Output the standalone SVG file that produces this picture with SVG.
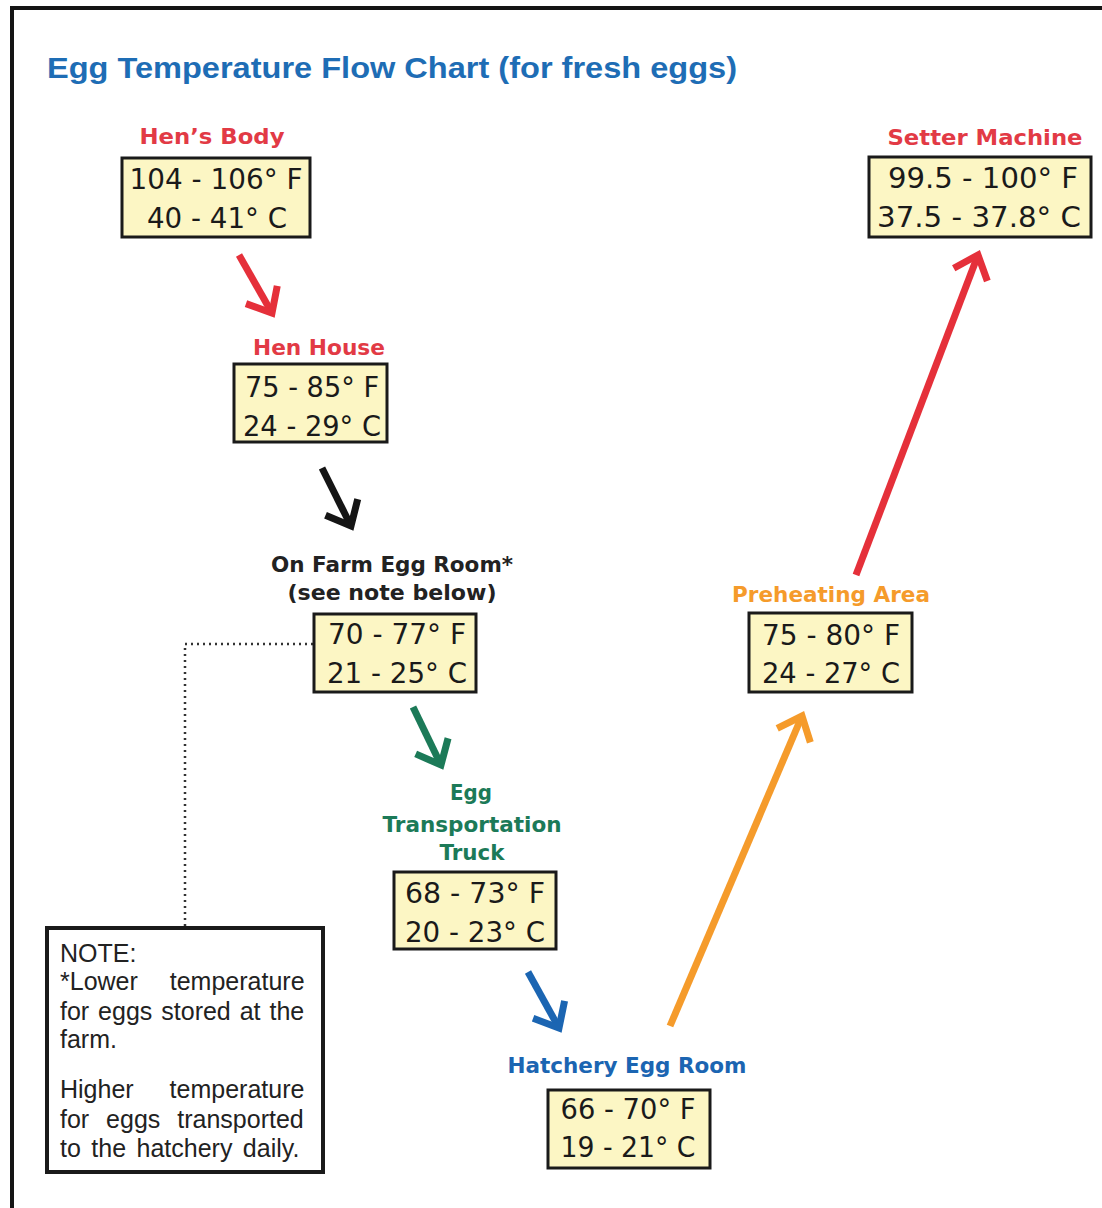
<svg xmlns="http://www.w3.org/2000/svg" width="1102" height="1208" viewBox="0 0 1102 1208">
<style>
.box{fill:#fcf6c4;stroke:#1a1a1a;stroke-width:3}
.val{font-family:"DejaVu Sans",sans-serif;font-size:28px;fill:#1a1a1a;text-anchor:middle}
.lbl{font-family:"DejaVu Sans",sans-serif;font-size:22px;font-weight:bold;text-anchor:middle}
.note{font-family:"Liberation Sans",Arial,sans-serif;font-size:25px;fill:#222}
.arr{fill:none;stroke-width:7;stroke-linecap:butt}
</style>
<defs>
<marker id="mRed" markerUnits="userSpaceOnUse" viewBox="-30 -25 36 50" markerWidth="36" markerHeight="50" refX="0" refY="0" orient="auto"><path d="M-21 -18 L0 0 L-21 18" fill="none" stroke="#e5303a" stroke-width="7"/></marker>
<marker id="mBlack" markerUnits="userSpaceOnUse" viewBox="-30 -25 36 50" markerWidth="36" markerHeight="50" refX="0" refY="0" orient="auto"><path d="M-21 -18 L0 0 L-21 18" fill="none" stroke="#151515" stroke-width="7"/></marker>
<marker id="mGreen" markerUnits="userSpaceOnUse" viewBox="-30 -25 36 50" markerWidth="36" markerHeight="50" refX="0" refY="0" orient="auto"><path d="M-21 -18 L0 0 L-21 18" fill="none" stroke="#1c7a58" stroke-width="7"/></marker>
<marker id="mBlue" markerUnits="userSpaceOnUse" viewBox="-30 -25 36 50" markerWidth="36" markerHeight="50" refX="0" refY="0" orient="auto"><path d="M-21 -18 L0 0 L-21 18" fill="none" stroke="#1b65b2" stroke-width="7"/></marker>
<marker id="mOrange" markerUnits="userSpaceOnUse" viewBox="-30 -25 36 50" markerWidth="36" markerHeight="50" refX="0" refY="0" orient="auto"><path d="M-21 -18 L0 0 L-21 18" fill="none" stroke="#f59b2b" stroke-width="7"/></marker>
</defs>
<rect width="1102" height="1208" fill="#ffffff"/>
<path d="M12 1208 L12 8 L1102 8" fill="none" stroke="#151515" stroke-width="4"/>
<text x="47" y="78" font-family="Liberation Sans, Arial, sans-serif" font-size="30" font-weight="bold" fill="#1e6db5" textLength="690" lengthAdjust="spacingAndGlyphs">Egg Temperature Flow Chart (for fresh eggs)</text>

<g id="connectors">
<line class="arr" x1="239" y1="255" x2="272" y2="313" stroke="#e5303a" marker-end="url(#mRed)"/>
<line class="arr" x1="322" y1="468" x2="351" y2="526" stroke="#151515" marker-end="url(#mBlack)"/>
<line class="arr" x1="413" y1="707" x2="441" y2="765" stroke="#1c7a58" marker-end="url(#mGreen)"/>
<line class="arr" x1="528" y1="972" x2="559" y2="1028" stroke="#1b65b2" marker-end="url(#mBlue)"/>
<line class="arr" x1="670" y1="1026" x2="802" y2="716" stroke="#f59b2b" marker-end="url(#mOrange)"/>
<line class="arr" x1="856" y1="575" x2="978" y2="255" stroke="#e5303a" marker-end="url(#mRed)"/>
<path d="M313 644 L185 644 L185 927" fill="none" stroke="#333" stroke-width="2.5" stroke-dasharray="2 4"/>
</g>

<g id="hens-body">
<text class="lbl" x="212" y="144" fill="#e23a45" textLength="145" lengthAdjust="spacingAndGlyphs">Hen’s  Body</text>
<rect class="box" x="122" y="158" width="188" height="79"/>
<text class="val" x="216" y="189" textLength="173" lengthAdjust="spacingAndGlyphs">104 - 106° F</text>
<text class="val" x="217" y="228" textLength="140" lengthAdjust="spacingAndGlyphs">40 - 41° C</text>
</g>

<g id="hen-house">
<text class="lbl" x="319" y="355" fill="#e23a45" textLength="132" lengthAdjust="spacingAndGlyphs">Hen House</text>
<rect class="box" x="234" y="364" width="153" height="78"/>
<text class="val" x="312" y="397" textLength="134" lengthAdjust="spacingAndGlyphs">75 - 85° F</text>
<text class="val" x="312" y="436" textLength="138" lengthAdjust="spacingAndGlyphs">24 - 29° C</text>
</g>

<g id="on-farm-egg-room">
<text class="lbl" x="392" y="572" fill="#222" textLength="242" lengthAdjust="spacingAndGlyphs">On Farm Egg Room*</text>
<text class="lbl" x="392" y="600" fill="#222" textLength="209" lengthAdjust="spacingAndGlyphs">(see note below)</text>
<rect class="box" x="314" y="614" width="162" height="78"/>
<text class="val" x="397" y="644" textLength="138" lengthAdjust="spacingAndGlyphs">70 - 77° F</text>
<text class="val" x="397" y="683" textLength="140" lengthAdjust="spacingAndGlyphs">21 - 25° C</text>
</g>

<g id="egg-transportation-truck">
<text class="lbl" x="471" y="800" fill="#1c7a58" textLength="42" lengthAdjust="spacingAndGlyphs">Egg</text>
<text class="lbl" x="472" y="832" fill="#1c7a58" textLength="179" lengthAdjust="spacingAndGlyphs">Transportation</text>
<text class="lbl" x="472" y="860" fill="#1c7a58" textLength="65" lengthAdjust="spacingAndGlyphs">Truck</text>
<rect class="box" x="394" y="872" width="162" height="77"/>
<text class="val" x="475" y="903" textLength="140" lengthAdjust="spacingAndGlyphs">68 - 73° F</text>
<text class="val" x="475" y="942" textLength="140" lengthAdjust="spacingAndGlyphs">20 - 23° C</text>
</g>

<g id="hatchery-egg-room">
<text class="lbl" x="627" y="1073" fill="#1b65b2" textLength="239" lengthAdjust="spacingAndGlyphs">Hatchery Egg Room</text>
<rect class="box" x="548" y="1090" width="162" height="78"/>
<text class="val" x="628" y="1119" textLength="135" lengthAdjust="spacingAndGlyphs">66 - 70° F</text>
<text class="val" x="628" y="1157" textLength="135" lengthAdjust="spacingAndGlyphs">19 - 21° C</text>
</g>

<g id="preheating-area">
<text class="lbl" x="831" y="602" fill="#f59b2b" textLength="198" lengthAdjust="spacingAndGlyphs">Preheating Area</text>
<rect class="box" x="749" y="613" width="163" height="79"/>
<text class="val" x="831" y="645" textLength="138" lengthAdjust="spacingAndGlyphs">75 - 80° F</text>
<text class="val" x="831" y="683" textLength="138" lengthAdjust="spacingAndGlyphs">24 - 27° C</text>
</g>

<g id="setter-machine">
<text class="lbl" x="985" y="145" fill="#e23a45" textLength="195" lengthAdjust="spacingAndGlyphs">Setter Machine</text>
<rect class="box" x="869" y="157" width="222" height="80"/>
<text class="val" x="983" y="188" textLength="190" lengthAdjust="spacingAndGlyphs">99.5 - 100° F</text>
<text class="val" x="979" y="227" textLength="204" lengthAdjust="spacingAndGlyphs">37.5 - 37.8° C</text>
</g>

<g id="note">
<rect x="47" y="928" width="276" height="244" fill="#ffffff" stroke="#1a1a1a" stroke-width="4"/>
<text class="note" x="60" y="962">NOTE:</text>
<text class="note" x="60" y="990" word-spacing="25">*Lower temperature</text>
<text class="note" x="60" y="1020" word-spacing="2">for eggs stored at the</text>
<text class="note" x="60" y="1048">farm.</text>
<text class="note" x="60" y="1098" word-spacing="29">Higher temperature</text>
<text class="note" x="60" y="1128" word-spacing="10">for eggs transported</text>
<text class="note" x="60" y="1157" word-spacing="3.5">to the hatchery daily.</text>
</g>
</svg>
